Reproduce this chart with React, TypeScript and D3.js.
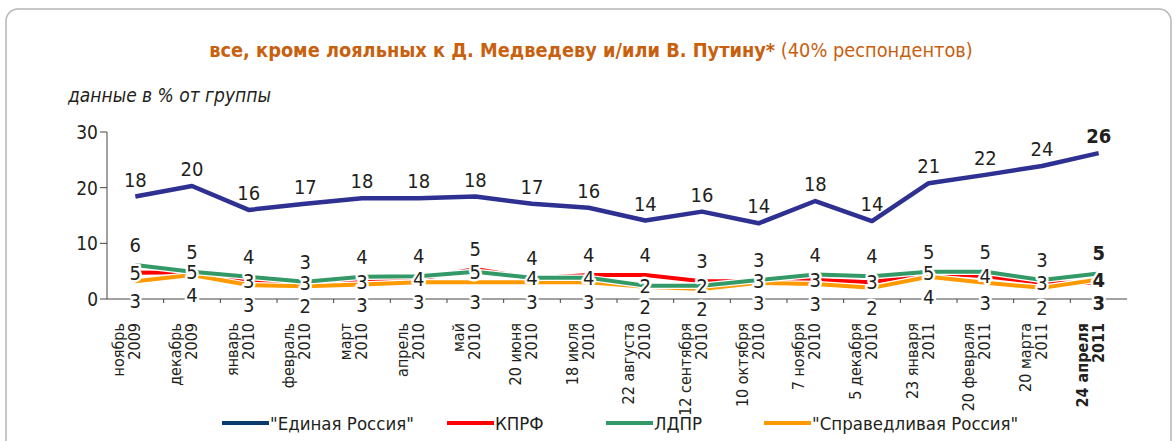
import { useEffect, useRef } from 'react';
import * as d3 from 'd3';

const categories = [
  'ноябрь 2009', 'декабрь 2009', 'январь 2010', 'февраль 2010', 'март 2010',
  'апрель 2010', 'май 2010', '20 июня 2010', '18 июля 2010', '22 августа 2010',
  '12 сентября 2010', '10 октября 2010', '7 ноября 2010', '5 декабря 2010',
  '23 января 2011', '20 февраля 2011', '20 марта 2011', '24 апреля 2011',
];

const edinayaRossiya = [18.4, 20.3, 16.0, 17.1, 18.1, 18.1, 18.4, 17.1, 16.4, 14.1, 15.7, 13.6, 17.6, 14.0, 20.8, 22.3, 23.9, 26.2];
const kprf = [4.7, 4.8, 3.3, 2.9, 3.1, 3.6, 5.4, 3.7, 4.3, 4.3, 3.2, 3.2, 3.4, 3.0, 4.7, 4.1, 2.9, 2.9];
const ldpr = [6.1, 4.9, 4.0, 3.1, 4.0, 4.1, 4.9, 3.8, 3.8, 2.4, 2.4, 3.4, 4.4, 4.1, 4.9, 4.9, 3.4, 4.6];
const spravRossiya = [3.2, 4.3, 2.5, 2.3, 2.6, 3.0, 3.0, 3.0, 3.0, 2.2, 1.8, 2.9, 2.7, 2.0, 4.0, 2.9, 2.0, 3.5];

const yTicks = [0, 10, 20, 30];

const FONT = '"DejaVu Sans", sans-serif';
const TEXT = '#231f20';

function App() {
  const svgRef = useRef<SVGSVGElement>(null);

  useEffect(() => {
    document.body.style.margin = '0';
    const svg = d3.select(svgRef.current);
    svg.selectAll('*').remove();

    const txt = (sel: any, size: number) => sel
      .attr('font-family', FONT)
      .attr('font-size', size)
      .style('font-stretch', 'condensed')
      .attr('fill', TEXT);

    const left = 107;
    const right = 1127;
    const x = d3.scalePoint<number>()
      .domain(d3.range(categories.length))
      .range([left, right])
      .padding(0.5);
    const step = x.step();
    const y = d3.scaleLinear().domain([0, 30]).range([299, 132]);

    // panel border
    svg.append('rect')
      .attr('x', 6).attr('y', 9)
      .attr('width', 1165).attr('height', 460)
      .attr('rx', 12)
      .attr('fill', 'white')
      .attr('stroke', '#b5b5b5')
      .attr('stroke-width', 1.5);

    // title
    const title = txt(svg.append('text'), 19.8)
      .attr('x', 591).attr('y', 57)
      .attr('text-anchor', 'middle')
      .attr('fill', '#c8600e');
    title.append('tspan').attr('font-weight', 'bold').text('все, кроме лояльных к Д. Медведеву и/или В. Путину*');
    title.append('tspan').text(' (40% респондентов)');

    txt(svg.append('text'), 19)
      .attr('x', 68).attr('y', 102)
      .attr('font-style', 'italic')
      .text('данные в % от группы');

    // y axis
    svg.append('line')
      .attr('x1', left).attr('x2', left)
      .attr('y1', y(30)).attr('y2', y(0))
      .attr('stroke', '#444').attr('stroke-width', 1);
    svg.selectAll('.ytick')
      .data(yTicks)
      .join('line')
      .attr('x1', left - 7).attr('x2', left)
      .attr('y1', d => y(d)).attr('y2', d => y(d))
      .attr('stroke', '#444');
    txt(svg.selectAll('.ylabel').data(yTicks).join('text'), 19)
      .attr('x', left - 9)
      .attr('y', d => y(d) + 7)
      .attr('text-anchor', 'end')
      .text(d => d);

    // x axis
    svg.append('line')
      .attr('x1', left).attr('x2', right)
      .attr('y1', y(0)).attr('y2', y(0))
      .attr('stroke', '#444');
    svg.selectAll('.xtick')
      .data(d3.range(1, categories.length))
      .join('line')
      .attr('x1', i => left + step * i).attr('x2', i => left + step * i)
      .attr('y1', y(0)).attr('y2', y(0) + 4)
      .attr('stroke', '#444');

    const xl = txt(svg.selectAll('.xlabel').data(categories).join('text'), 16)
      .attr('transform', (d, i) => `translate(${x(i)},323) rotate(-90)`)
      .attr('text-anchor', 'end')
      .attr('font-weight', (d, i) => (i === categories.length - 1 ? 'bold' : 'normal'));
    xl.append('tspan')
      .attr('x', 0).attr('y', -11)
      .text(d => d.slice(0, d.lastIndexOf(' ')));
    xl.append('tspan')
      .attr('x', 0).attr('y', 5)
      .text(d => d.slice(d.lastIndexOf(' ') + 1));

    const line = d3.line<number>()
      .x((d, i) => x(i) as number)
      .y(d => y(d));

    const small = [
      { name: 'КПРФ', values: kprf, color: '#ff0000' },
      { name: 'СР', values: spravRossiya, color: '#ff9900' },
      { name: 'ЛДПР', values: ldpr, color: '#339966' },
    ];

    small.forEach(s => {
      svg.append('path')
        .attr('d', line(s.values))
        .attr('fill', 'none')
        .attr('stroke', 'white')
        .attr('stroke-width', 6.5)
        .attr('stroke-linejoin', 'round');
      svg.append('path')
        .attr('d', line(s.values))
        .attr('fill', 'none')
        .attr('stroke', s.color)
        .attr('stroke-width', 4)
        .attr('stroke-linejoin', 'round');
    });

    svg.append('path')
      .attr('d', line(edinayaRossiya))
      .attr('fill', 'none')
      .attr('stroke', '#2e3192')
      .attr('stroke-width', 4.5)
      .attr('stroke-linejoin', 'round');

    const last = categories.length - 1;

    // labels for ЕР
    txt(svg.selectAll('.erlabel').data(edinayaRossiya).join('text'), 20)
      .attr('x', (d, i) => x(i) as number)
      .attr('y', d => y(d) - 10)
      .attr('text-anchor', 'middle')
      .attr('font-weight', (d, i) => (i === last ? 'bold' : 'normal'))
      .text(d => Math.round(d));

    // labels for the three small parties: highest above, middle on the line, lowest below
    const labelData: { i: number; v: number; pos: number }[] = [];
    categories.forEach((c, i) => {
      const vals = [ldpr[i], kprf[i], spravRossiya[i]].sort((a, b) => b - a);
      vals.forEach((v, pos) => labelData.push({ i, v, pos }));
    });

    txt(svg.selectAll('.slabel').data(labelData).join('text'), 20)
      .attr('x', d => x(d.i) as number)
      .attr('y', d => y(d.v) + [-13, 7, 27][d.pos])
      .attr('text-anchor', 'middle')
      .attr('font-weight', d => (d.i === last ? 'bold' : 'normal'))
      .attr('stroke', d => (d.pos === 0 ? 'none' : 'white'))
      .attr('stroke-width', 5)
      .attr('stroke-linejoin', 'round')
      .attr('paint-order', 'stroke')
      .text(d => Math.round(d.v));

    // legend
    const legend = [
      { label: '"Единая Россия"', color: '#0b3a6e', x: 222 },
      { label: 'КПРФ', color: '#ff0000', x: 447 },
      { label: 'ЛДПР', color: '#339966', x: 606 },
      { label: '"Справедливая Россия"', color: '#ff9900', x: 764 },
    ];
    const lg = svg.selectAll('.legend')
      .data(legend)
      .join('g')
      .attr('transform', d => `translate(${d.x},423)`);
    lg.append('line')
      .attr('x1', 0).attr('x2', 47)
      .attr('y1', 0).attr('y2', 0)
      .attr('stroke', d => d.color)
      .attr('stroke-width', 4);
    txt(lg.append('text'), 18.5)
      .attr('x', 48).attr('y', 7)
      .text(d => d.label);
  }, []);

  return <svg ref={svgRef} width={1176} height={441} style={{ display: 'block' }}></svg>;
}

export default App;
